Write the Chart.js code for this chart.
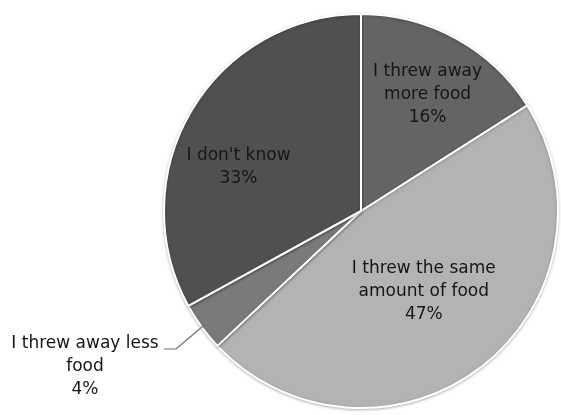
<!DOCTYPE html>
<html>
<head>
<meta charset="utf-8">
<script src="https://cdn.jsdelivr.net/npm/chart.js@4.4.0/dist/chart.umd.min.js"></script>
<style>
  html, body { margin: 0; padding: 0; background: #fff; }
  #wrap { width: 561px; height: 415px; position: relative; }
</style>
</head>
<body>
<div id="wrap"><canvas id="foodPie" width="561" height="415"></canvas></div>
<script>
const categories = [
  ["I threw away", "more food"],
  ["I threw the same", "amount of food"],
  ["I threw away less", "food"],
  ["I don't know"]
];
const shares = [16, 47, 4, 33];
const sliceColors = ["#646464", "#b3b3b3", "#7a7a7a", "#505050"];

// where each label sits: fraction of the radius along the slice middle, plus a small angle tweak
const labelSpots = [
  { f: 0.68, turn: 1 },
  { f: 0.52, turn: 0 },
  { outside: true },
  { f: 0.66, turn: -11 }
];

const pieLabels = {
  id: "pieLabels",
  afterDatasetsDraw(chart) {
    const ctx = chart.ctx;
    const meta = chart.getDatasetMeta(0);
    ctx.save();
    ctx.font = "17px 'DejaVu Sans'";
    ctx.fillStyle = "#161616";
    ctx.textAlign = "center";
    ctx.textBaseline = "middle";
    const lh = 23;
    meta.data.forEach((arc, i) => {
      const p = arc.getProps(["x", "y", "startAngle", "endAngle", "outerRadius"], true);
      const lines = categories[i].concat([shares[i] + "%"]);
      const spot = labelSpots[i];
      const mid = (p.startAngle + p.endAngle) / 2;
      if (spot.outside) {
        // leader line from the slice edge out to the left
        const ex = p.x + Math.cos(mid) * (p.outerRadius - 4);
        const ey = p.y + Math.sin(mid) * (p.outerRadius - 4);
        const tx = 85, ty = 367;
        ctx.strokeStyle = "#6e6e6e";
        ctx.lineWidth = 1.2;
        ctx.beginPath();
        ctx.moveTo(ex, ey);
        ctx.lineTo(176, 349);
        ctx.lineTo(164, 349);
        ctx.stroke();
        lines.forEach((t, k) => ctx.fillText(t, tx, ty + (k - 1) * lh));
        return;
      }
      const a = mid + spot.turn * Math.PI / 180;
      const cx = p.x + Math.cos(a) * p.outerRadius * spot.f;
      const cy = p.y + Math.sin(a) * p.outerRadius * spot.f;
      const top = cy - (lines.length - 1) * lh / 2;
      lines.forEach((t, k) => ctx.fillText(t, cx, top + k * lh));
    });
    ctx.restore();
  }
};

// soft drop shadow under the pie
const pieShadow = {
  id: "pieShadow",
  beforeDatasetsDraw(chart) {
    chart.ctx.save();
    chart.ctx.shadowColor = "rgba(0,0,0,0.25)";
    chart.ctx.shadowBlur = 3;
    chart.ctx.shadowOffsetY = 1;
  },
  afterDatasetsDraw(chart) {
    chart.ctx.restore();
  }
};

new Chart(document.getElementById("foodPie"), {
  type: "pie",
  data: {
    labels: categories.map(c => c.join(" ")),
    datasets: [{
      data: shares,
      backgroundColor: sliceColors,
      borderColor: "#ffffff",
      borderWidth: 2
    }]
  },
  options: {
    responsive: false,
    animation: false,
    layout: { padding: { left: 163, right: 2, top: 13, bottom: 6 } },
    plugins: {
      legend: { display: false },
      tooltip: { enabled: false }
    }
  },
  plugins: [pieShadow, pieLabels]
});
</script>
</body>
</html>
